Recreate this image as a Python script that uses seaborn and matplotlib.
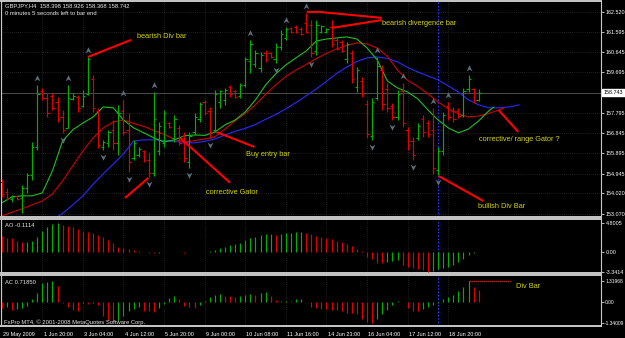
import numpy as np
import matplotlib
matplotlib.use("Agg")
import matplotlib.pyplot as plt
from matplotlib.path import Path
from matplotlib.transforms import blended_transform_factory, ScaledTranslation
import seaborn as sns

# ---------------- data ----------------
header_text = "GBPJPY,H4  158.398 158.926 158.368 158.742"
timer_text = "0 minutes 5 seconds left to bar end"
ao_label = "AO -0.1114"
ac_label = "AC 0.71850"
copyright_text = "FxPro MT4, \u00a9 2001-2008 MetaQuotes Software Corp."

bar_high = [154.70, 154.28, 153.95, 153.91, 154.42, 154.98, 156.43, 159.10, 158.96, 158.73,
            158.73, 158.54, 157.93, 159.10, 158.73, 158.63, 158.87, 160.41, 159.57, 158.03,
            156.53, 157.00, 157.46, 158.17, 158.40, 157.79, 156.53, 156.20, 156.06, 155.97,
            158.77, 157.37, 157.93, 157.37, 157.70, 157.23, 156.90, 156.90, 157.79, 158.31,
            158.40, 158.07, 158.87, 158.87, 158.96, 159.10, 158.87, 159.20, 160.41, 161.21,
            160.74, 160.65, 160.74, 160.65, 161.07, 161.68, 161.82, 161.82, 161.91, 161.82,
            162.47, 162.14, 162.14, 161.91, 161.77, 162.14, 161.35, 161.21, 161.11, 160.74,
            159.94, 159.48, 158.40, 158.49, 160.41, 160.04, 159.20, 158.26, 158.87, 159.20,
            157.14, 156.67, 157.32, 157.70, 157.46, 158.03, 156.20, 157.84, 158.31, 158.07,
            158.03, 158.96, 159.57, 158.96, 158.926]
bar_low = [153.86, 153.72, 153.63, 153.72, 153.11, 154.05, 154.66, 156.06, 158.40, 157.60,
           157.93, 157.37, 156.86, 157.09, 158.40, 157.84, 158.07, 158.63, 157.84, 156.15,
           156.06, 156.20, 156.06, 155.83, 156.76, 155.03, 155.59, 155.73, 155.50, 154.80,
           154.84, 155.83, 156.20, 157.09, 156.43, 156.29, 155.50, 155.22, 156.76, 157.37,
           157.70, 156.62, 156.90, 158.03, 158.17, 158.54, 158.49, 158.49, 159.01, 159.66,
           159.94, 159.71, 160.18, 160.37, 160.13, 160.74, 161.21, 161.54, 161.54, 161.44,
           161.54, 160.41, 160.51, 161.54, 161.54, 160.88, 160.74, 160.65, 160.13, 159.20,
           158.77, 158.54, 156.62, 156.53, 158.40, 157.93, 157.84, 157.46, 157.46, 157.14,
           156.06, 155.59, 156.53, 156.67, 156.67, 154.93, 154.89, 155.83, 157.46, 157.37,
           157.56, 157.60, 158.77, 158.26, 158.368]
bar_open = [154.55, 154.10, 153.75, 153.88, 153.80, 154.30, 154.90, 156.20, 158.80, 158.50,
            158.60, 158.30, 157.60, 157.10, 158.45, 158.55, 158.10, 158.70, 159.40, 157.90,
            156.20, 156.40, 157.00, 156.40, 157.90, 157.00, 155.70, 155.80, 156.00, 155.60,
            155.00, 156.00, 156.40, 157.30, 156.60, 157.10, 156.70, 155.50, 156.90, 157.50,
            158.30, 157.90, 157.00, 158.30, 158.40, 159.00, 158.80, 158.60, 159.10, 160.20,
            160.10, 159.90, 160.60, 160.60, 160.30, 160.90, 161.30, 161.75, 161.80, 161.70,
            162.00, 161.90, 160.70, 161.60, 161.60, 161.80, 161.20, 161.10, 160.30, 160.60,
            159.00, 159.30, 158.20, 156.70, 158.50, 159.80, 158.90, 158.10, 157.60, 158.80,
            157.00, 156.50, 156.60, 157.50, 157.30, 157.00, 155.10, 156.00, 158.10, 157.90,
            157.90, 157.70, 158.90, 158.90, 158.398]
bar_close = [154.00, 153.80, 153.90, 153.78, 154.30, 154.90, 156.20, 158.70, 158.50, 157.80,
             158.00, 157.50, 157.00, 158.50, 158.60, 158.00, 158.60, 160.30, 158.00, 156.30,
             156.45, 156.90, 156.40, 157.80, 156.90, 155.50, 156.40, 156.10, 155.60, 155.00,
             157.50, 157.20, 157.80, 157.15, 157.50, 156.40, 155.70, 156.70, 157.60, 158.20,
             157.80, 156.90, 158.70, 158.80, 158.85, 158.70, 158.55, 159.10, 160.30, 161.00,
             160.60, 160.50, 160.30, 160.40, 160.90, 161.50, 161.70, 161.60, 161.60, 161.50,
             161.60, 160.60, 161.90, 161.85, 161.70, 161.00, 160.80, 160.70, 161.00, 159.40,
             159.80, 158.70, 156.80, 158.30, 160.00, 158.20, 158.00, 157.60, 158.70, 157.30,
             156.30, 155.80, 157.20, 156.90, 156.80, 155.20, 156.00, 157.70, 157.60, 157.50,
             157.65, 158.80, 159.40, 158.40, 158.742]

# Alligator lines (bar index, price)
jaw_idx = [10, 12, 14, 16, 18, 20, 22, 24, 26, 28, 30, 32, 34, 36, 38, 40, 42, 44, 46, 48,
           50, 52, 54, 56, 58, 60, 62, 64, 66, 68, 70, 72, 74, 76, 78, 80, 82, 84, 86, 88,
           90, 92, 94, 96, 98, 100, 102]
jaw_val = [152.78, 153.09, 153.49, 153.91, 154.45, 154.94, 155.40, 155.87, 156.48, 156.53,
           156.53, 156.50, 156.46, 156.41, 156.39, 156.46, 156.57, 156.76, 156.93, 157.07,
           157.25, 157.49, 157.72, 157.98, 158.28, 158.59, 158.91, 159.27, 159.64, 159.94,
           160.20, 160.37, 160.41, 160.34, 160.18, 159.92, 159.71, 159.52, 159.34, 159.06,
           158.77, 158.40, 158.17, 158.03, 158.03, 158.07, 158.17]
teeth_idx = [0, 2, 4, 6, 8, 10, 12, 14, 16, 18, 20, 22, 24, 26, 28, 30, 32, 34, 36, 38,
             40, 42, 44, 46, 48, 50, 52, 54, 56, 58, 60, 62, 64, 66, 68, 70, 72, 74, 76, 78,
             80, 82, 84, 86, 88, 90, 92, 94, 96, 98, 99]
teeth_val = [152.97, 153.14, 153.30, 153.49, 153.67, 154.00, 154.61, 155.31, 156.01, 156.62,
             157.09, 157.37, 157.46, 157.30, 157.16, 156.97, 156.79, 156.55, 156.43, 156.50,
             156.57, 156.67, 157.04, 157.42, 157.77, 158.17, 158.66, 159.10, 159.50, 159.80,
             160.06, 160.34, 160.58, 160.79, 160.95, 161.07, 161.02, 160.83, 160.44, 159.80,
             159.31, 159.03, 158.68, 158.31, 157.98, 157.75, 157.60, 157.65, 157.77, 157.93,
             158.03]
lips_idx = [0, 2, 4, 6, 8, 10, 12, 14, 16, 18, 20, 22, 24, 26, 28, 30, 32, 34, 36, 38,
            40, 42, 44, 46, 48, 50, 52, 54, 56, 58, 60, 62, 64, 66, 68, 70, 72, 74, 76, 78,
            80, 82, 84, 86, 88, 90, 92, 94, 96, 97]
lips_val = [153.58, 153.86, 153.91, 153.91, 154.05, 155.08, 156.48, 157.00, 157.32, 157.60,
            158.07, 158.03, 157.46, 157.09, 156.86, 156.62, 156.43, 156.53, 156.72, 156.76,
            156.74, 156.90, 157.23, 157.46, 157.84, 158.40, 159.10, 159.62, 160.04, 160.37,
            160.69, 161.16, 161.25, 161.30, 161.35, 161.25, 160.83, 160.27, 159.29, 158.96,
            158.77, 158.45, 157.93, 157.46, 157.09, 156.86, 157.04, 157.42, 157.89, 158.07]

fractal_up = [7, 13, 17, 24, 30, 49, 56, 60, 74, 79, 85, 88, 92]
fractal_down = [4, 12, 20, 25, 29, 37, 41, 54, 61, 73, 77, 81, 86]

ao_values = [2.60, 2.21, 2.21, 1.82, 1.55, 1.66, 1.82, 2.49, 3.48, 4.14,
             4.59, 4.8005, 4.42, 4.25, 4.03, 3.70, 3.48, 3.31, 3.04, 2.76,
             2.49, 1.93, 1.38, 0.83, 0.55, 0.39, 0.28, 0.17, -0.05, -0.18,
             -0.25, -0.20, -0.15, -0.08, -0.12, -0.15, -0.18, -0.14, -0.10, -0.06,
             0.00, 0.08, 0.28, 0.55, 0.80, 1.05, 1.30, 1.50, 1.93, 2.20,
             2.45, 2.70, 2.90, 2.95, 2.80, 2.95, 3.05, 3.15, 3.20, 3.30,
             3.15, 2.93, 2.60, 2.49, 2.21, 2.04, 1.82, 1.55, 1.27, 0.94,
             0.39, 0.17, -0.83, -1.27, -1.82, -1.85, -1.66, -1.55, -1.38, -2.21,
             -2.49, -2.76, -2.93, -3.04, -3.3414, -3.15, -2.93, -2.76, -2.49, -2.21,
             -1.66, -1.27, -0.55, -0.20, -0.1114]
ac_values = [-0.36, -0.32, -0.53, -0.48, -0.38, -0.25, 0.15, 0.55, 1.20, 1.28,
             1.30, 1.00, -0.05, -0.35, -0.50, -0.60, -0.10, -0.15, -0.05, -0.20,
             -0.90, -1.15, -1.28, -1.20, -0.90, -0.60, -0.45, -0.35, -0.55, -0.60,
             -0.65, -0.40, -0.15, 0.25, 0.40, 0.20, -0.25, -0.35, -0.40, -0.20,
             0.05, 0.30, 0.45, 0.50, 0.40, 0.35, 0.33, 0.38, 0.45, 0.50,
             0.42, 0.55, 0.60, 0.35, 0.10, 0.05, 0.08, 0.06, 0.15, 0.20,
             0.00, -0.30, -0.42, -0.45, -0.48, -0.50, -0.52, -0.60, -0.68, -0.70,
             -0.80, -1.10, -1.25, -1.34009, -1.10, -0.80, -0.50, -0.20, 0.05, 0.02,
             -0.40, -0.55, -0.60, -0.45, -0.30, -0.20, -0.10, 0.20, 0.30, 0.45,
             0.70, 0.95, 1.31968, 0.95, 0.7185]

price_ticks = [162.520, 161.595, 160.645, 159.695, 157.795, 156.845, 155.895, 154.945, 154.020, 153.070]
price_tick_labels = ["162.520", "161.595", "160.645", "159.695", "157.795", "156.845",
                     "155.895", "154.945", "154.020", "153.070"]
grid_prices = [162.520, 161.595, 160.645, 159.695, 158.745, 157.795, 156.845, 155.895, 154.945, 154.020, 153.070]
bid_price = 158.742
bid_label = "158.743"
ao_ticks = [4.8005, 0.0, -3.3414]
ao_tick_labels = ["4.8005", "0.00", "-3.3414"]
ac_ticks = [1.31968, 0.0, -1.34009]
ac_tick_labels = ["1.31968", "0.00", "-1.34009"]
date_idx = [0, 8, 16, 24, 32, 40, 48, 56, 64, 72, 80, 88]
date_labels = ["29 May 2009", "1 Jun 20:00", "3 Jun 04:00", "4 Jun 12:00", "5 Jun 20:00",
               "9 Jun 00:00", "10 Jun 08:00", "11 Jun 16:00", "14 Jun 23:00", "16 Jun 04:00",
               "17 Jun 12:00", "18 Jun 20:00"]
marked_bar = 86

# annotations: (text, text_idx, text_price), red lines as lists of (idx, price)
annotations = [
    ("bearish Div bar", 26.7, 161.35),
    ("bearish divergence bar", 74.9, 162.00),
    ("Buy entry bar", 48.2, 155.83),
    ("corrective Gator", 40.3, 154.05),
    ("bullish Div Bar", 93.9, 153.39),
    ("corrective/ range Gator ?", 94.1, 156.53),
]
arrow_lines = [
    [(17.0, 160.41), (25.5, 161.21)],
    [(60.1, 162.52), (62.6, 162.52), (74.9, 162.24)],
    [(65.1, 161.77), (74.9, 162.14)],
    [(42.3, 156.90), (49.8, 156.20)],
    [(35.2, 156.62), (45.0, 154.52)],
    [(24.3, 153.81), (28.9, 154.75)],
    [(86.1, 154.84), (94.9, 153.67)],
    [(97.9, 157.93), (101.8, 156.90)],
]
ac_div_line = [(92.0, 1.31968), (100.3, 1.31968)]
ac_div_text = ("Div Bar", 101.4, 0.95)

# ---------------- style ----------------
sns.set_theme(style="dark", rc={"axes.facecolor": "black", "figure.facecolor": "black",
                                "axes.grid": False})
plt.rcParams['font.family'] = ['Liberation Sans', 'DejaVu Sans']

W, H = 625, 338
fig = plt.figure(figsize=(W / 100, H / 100), dpi=100)
fig.patch.set_facecolor("black")


def axes_px(top, bottom):
    return fig.add_axes([1 / W, 1 - bottom / H, 600 / W, (bottom - top) / H])


ax = axes_px(1, 217)
ax_ao = axes_px(219, 273)
ax_ac = axes_px(275, 326)

UP = "#00b000"
DN = "#e00000"
XLIM = (-0.14, 118.1)
GRID_C = "#3a3a3a"
FRAME_C = "#c8c8c8"
LABEL_C = "#ffffff"

for a in (ax, ax_ao, ax_ac):
    a.set_facecolor("black")
    a.set_xlim(*XLIM)
    for s in a.spines.values():
        s.set_color(FRAME_C)
        s.set_linewidth(0.8)
    a.spines['top'].set_linewidth(1.4)
    a.spines['bottom'].set_linewidth(1.4)
    a.yaxis.tick_right()
    a.set_xticks(date_idx)
    a.tick_params(axis='x', labelbottom=False, length=0)
    a.tick_params(axis='y', colors=LABEL_C, labelsize=3.9, length=2, width=0.5, pad=1.2)
    for xi in date_idx:
        a.axvline(xi, color=GRID_C, lw=0.5, ls=(0, (1, 2)), zorder=0)
    a.axvline(marked_bar, color="#3030ff", lw=0.8, ls=(0, (1.5, 1.5)), zorder=1)

# ---------------- main price panel ----------------
ax.set_ylim(152.92, 163.03)
for gp in grid_prices:
    ax.axhline(gp, color=GRID_C, lw=0.5, ls=(0, (1, 2)), zorder=0)
ax.axhline(bid_price, color="#555555", lw=0.6, zorder=1)

idx = np.arange(len(bar_high))
o = np.array(bar_open)
c = np.array(bar_close)
cols = [UP if cc >= oo else DN for oo, cc in zip(o, c)]
ax.vlines(idx, bar_low, bar_high, colors=cols, lw=0.85, zorder=3)
ax.hlines(o, idx - 0.45, idx, colors=cols, lw=0.8, zorder=3)
ax.hlines(c, idx, idx + 0.45, colors=cols, lw=0.8, zorder=3)

sns.lineplot(x=jaw_idx, y=jaw_val, ax=ax, color="#2a2aff", lw=0.8, legend=False, zorder=2)
sns.lineplot(x=teeth_idx, y=teeth_val, ax=ax, color="#d00000", lw=0.8, legend=False, zorder=2)
sns.lineplot(x=lips_idx, y=lips_val, ax=ax, color="#20c020", lw=0.8, legend=False, zorder=2)

arrow_up = Path([(0, 1), (0.9, -0.9), (0, -0.3), (-0.9, -0.9), (0, 1)],
                [Path.MOVETO, Path.LINETO, Path.LINETO, Path.LINETO, Path.CLOSEPOLY])
arrow_dn = Path([(0, -1), (0.9, 0.9), (0, 0.3), (-0.9, 0.9), (0, -1)],
                [Path.MOVETO, Path.LINETO, Path.LINETO, Path.LINETO, Path.CLOSEPOLY])
FR_C = "#5c707c"
ax.scatter(fractal_up, [bar_high[i] + 0.34 for i in fractal_up], marker=arrow_up,
           s=22, color=FR_C, linewidths=0, zorder=4)
ax.scatter(fractal_down, [bar_low[i] - 0.34 for i in fractal_down], marker=arrow_dn,
           s=22, color=FR_C, linewidths=0, zorder=4)

ax.set_yticks(price_ticks)
ax.set_yticklabels(price_tick_labels)
for lbl in ax.get_yticklabels():
    lbl.set_ha('left')

tr = blended_transform_factory(ax.transAxes, ax.transData)
ax.text(1.0045, bid_price, bid_label, transform=tr, fontsize=3.9, color="black",
        ha='left', va='center', zorder=6,
        bbox=dict(boxstyle='square,pad=0.25', fc='white', ec='white'))

YEL = "#d4d400"
for pts in arrow_lines:
    xs, ys = zip(*pts)
    ax.plot(xs, ys, color="#ff0000", lw=1.5, solid_capstyle='butt', zorder=5)
for txt, tx, ty in annotations:
    ax.text(tx, ty, txt, color=YEL, fontsize=5.3, ha='left', va='center', zorder=6)

fig.text(5 / W, 1 - 6 / H, header_text, color="#e6e6e6", fontsize=4.2, va='center', ha='left')
fig.text(5 / W, 1 - 13.5 / H, timer_text, color="#e6e6e6", fontsize=4.2, va='center', ha='left')

# ---------------- AO panel ----------------
ao = np.array(ao_values)
ao_cols = [DN] + [UP if ao[i] > ao[i - 1] else DN for i in range(1, len(ao))]
ax_ao.vlines(np.arange(len(ao)), 0, ao, colors=ao_cols, lw=0.85, zorder=3)
ax_ao.set_ylim(-3.56, 5.41)
ax_ao.set_yticks(ao_ticks)
ax_ao.set_yticklabels(ao_tick_labels)
for lbl in ax_ao.get_yticklabels():
    lbl.set_ha('left')
fig.text(5 / W, 1 - 225.5 / H, ao_label, color="#e6e6e6", fontsize=4.2, va='center', ha='left')

# ---------------- AC panel ----------------
ac = np.array(ac_values)
ac_cols = [DN] + [UP if ac[i] > ac[i - 1] else DN for i in range(1, len(ac))]
ax_ac.vlines(np.arange(len(ac)), 0, ac, colors=ac_cols, lw=0.85, zorder=3)
ax_ac.set_ylim(-1.53, 1.70)
ax_ac.set_yticks(ac_ticks)
ax_ac.set_yticklabels(ac_tick_labels)
ax_ac.tick_params(axis='y', labelsize=3.5, pad=1.0)
for lbl in ax_ac.get_yticklabels():
    lbl.set_ha('left')
xs, ys = zip(*ac_div_line)
ax_ac.plot(xs, ys, color="#ff2020", lw=0.9, ls=(0, (1, 0.6)), zorder=5)
ax_ac.text(ac_div_text[1], ac_div_text[2], ac_div_text[0], color=YEL, fontsize=5.3,
           ha='left', va='center', zorder=6)
fig.text(5 / W, 1 - 282 / H, ac_label, color="#e6e6e6", fontsize=4.2, va='center', ha='left')
fig.text(4 / W, 1 - 322 / H, copyright_text, color="#e6e6e6", fontsize=4.2, va='center', ha='left')

ax_ac.set_xticks(date_idx)
ax_ac.set_xticklabels(date_labels)
ax_ac.tick_params(axis='x', labelbottom=True, length=3, width=0.5, colors=LABEL_C,
                  labelsize=4.0, pad=1.0, direction='out')
off = ScaledTranslation(1.2 / 100, 0, fig.dpi_scale_trans)
for lbl in ax_ac.get_xticklabels():
    lbl.set_ha('left')
    lbl.set_transform(lbl.get_transform() + off)

fig.savefig("out.png", dpi=100, facecolor="black")
